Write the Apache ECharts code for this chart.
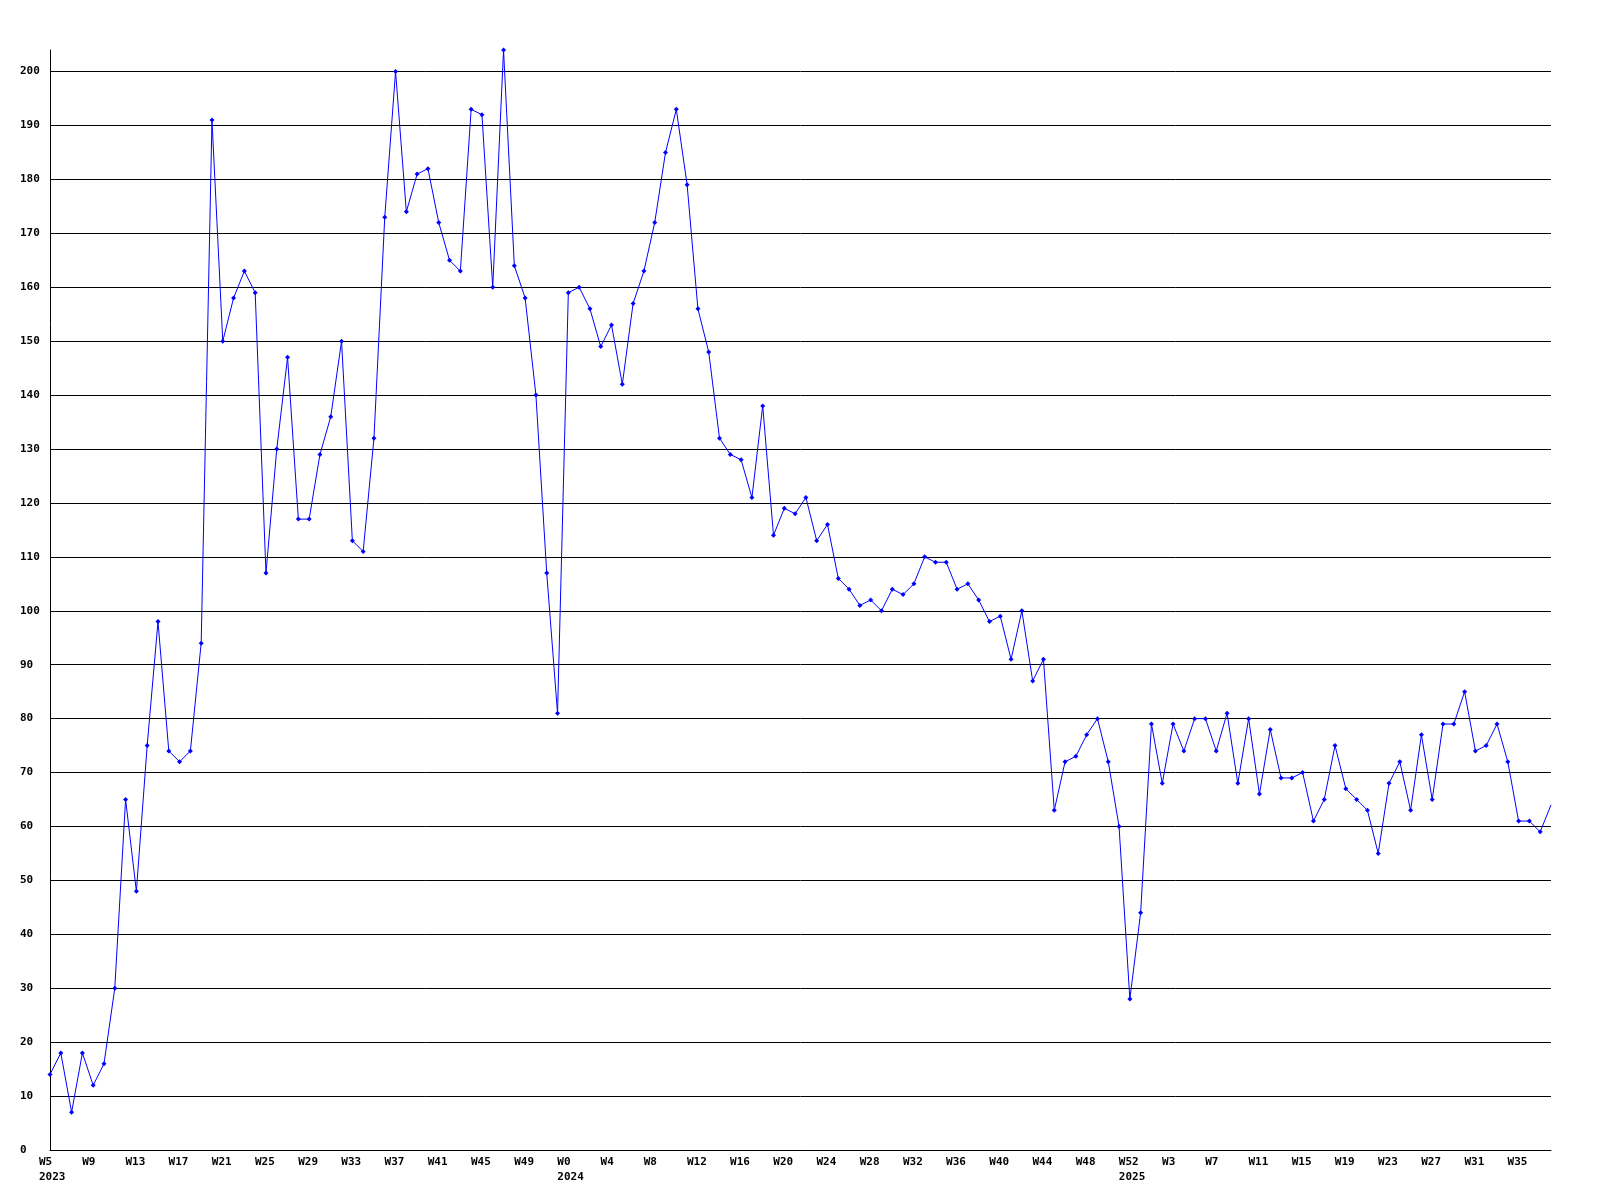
<!DOCTYPE html>
<html>
<head>
<meta charset="utf-8">
<script src="https://cdn.jsdelivr.net/npm/echarts@6/dist/echarts.min.js"></script>
<style>
html,body{margin:0;padding:0;background:#fff;}
#chart{width:1600px;height:1200px;}
</style>
</head>
<body>
<div id="chart"></div>
<script>
const weeks2023 = ["W5","W6","W7","W8","W9","W10","W11","W12","W13","W14","W15","W16","W17","W18","W19","W20","W21","W22","W23","W24","W25","W26","W27","W28","W29","W30","W31","W32","W33","W34","W35","W36","W37","W38","W39","W40","W41","W42","W43","W44","W45","W46","W47","W48","W49","W50","W51","W52"];
const weeks2024 = ["W0","W1","W2","W3","W4","W5","W6","W7","W8","W9","W10","W11","W12","W13","W14","W15","W16","W17","W18","W19","W20","W21","W22","W23","W24","W25","W26","W27","W28","W29","W30","W31","W32","W33","W34","W35","W36","W37","W38","W39","W40","W41","W42","W43","W44","W45","W46","W47","W48","W49","W50","W51","W52"];
const weeks2025 = ["W0","W1","W2","W3","W4","W5","W6","W7","W8","W9","W10","W11","W12","W13","W14","W15","W16","W17","W18","W19","W20","W21","W22","W23","W24","W25","W26","W27","W28","W29","W30","W31","W32","W33","W34","W35","W36","W37","W38"];
const categories = weeks2023.concat(weeks2024, weeks2025);

// year labels shown under the week tick labels (category index -> year)
const yearLabelIndex = [0, 48, 100];
const yearLabelText = ["2023", "2024", "2025"];

const values = [
  14,18,7,18,12,16,30,65,48,75,98,74,72,74,94,191,150,158,163,159,107,130,147,117,
  117,129,136,150,113,111,132,173,200,174,181,182,172,165,163,193,192,160,204,164,158,140,107,81,
  159,160,156,149,153,142,157,163,172,185,193,179,156,148,132,129,128,121,138,114,119,118,121,113,
  116,106,104,101,102,100,104,103,105,110,109,109,104,105,102,98,99,91,100,87,91,63,72,73,
  77,80,72,60,28,44,79,68,79,74,80,80,74,81,68,80,66,78,69,69,70,61,65,75,
  67,65,63,55,68,72,63,77,65,79,79,85,74,75,79,72,61,61,59,64
];

const yMax = 204;

const chart = echarts.init(document.getElementById('chart'), null, {renderer: 'canvas'});
const fontBase = {fontFamily: 'DejaVu Sans Mono', fontWeight: 'bold', fontSize: 11, color: '#000'};

const seriesData = values.map((v, i) => i === values.length - 1 ? {value: v, symbol: 'none'} : v);

chart.setOption({
  animation: false,
  backgroundColor: '#fff',
  grid: {left: 50, right: 49, top: 50, bottom: 50, containLabel: false},
  xAxis: {
    type: 'category',
    data: categories,
    boundaryGap: false,
    axisLine: {show: true, lineStyle: {color: '#000', width: 1}},
    axisTick: {show: false},
    splitLine: {show: false},
    axisLabel: Object.assign({}, fontBase, {
      interval: 3,
      align: 'left',
      padding: [0, 0, 0, -11],
      margin: 5,
      lineHeight: 15,
      formatter: function (val, idx) {
        const k = yearLabelIndex.indexOf(idx);
        return k >= 0 ? val + '\n' + yearLabelText[k] : val;
      }
    })
  },
  yAxis: {
    type: 'value',
    min: 0,
    max: yMax,
    interval: 10,
    axisLine: {show: true, lineStyle: {color: '#000', width: 1}},
    axisTick: {show: false},
    splitLine: {show: true, showMaxLine: false, lineStyle: {color: '#000', width: 1}},
    axisLabel: Object.assign({}, fontBase, {
      align: 'left',
      margin: 30,
      showMaxLabel: false
    })
  },
  series: [{
    type: 'line',
    data: seriesData,
    symbol: 'diamond',
    symbolSize: 5,
    showSymbol: true,
    lineStyle: {color: '#0000ff', width: 1},
    itemStyle: {color: '#0000ff'},
    clip: true
  }]
});
</script>
</body>
</html>
